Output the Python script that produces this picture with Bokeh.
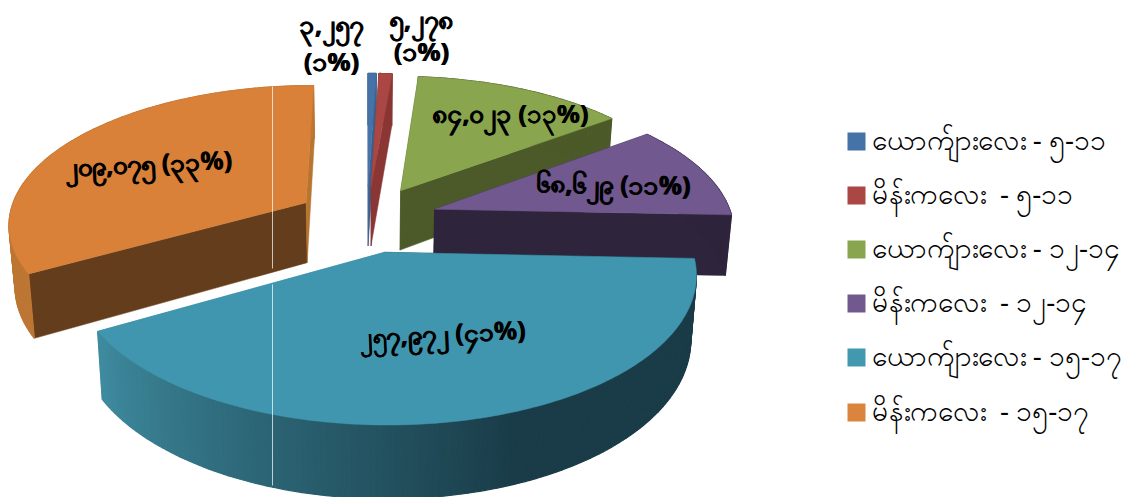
import math
from bokeh.plotting import figure
from bokeh.models import Range1d
from bokeh.core.properties import value
from bokeh.embed import file_html
from bokeh.resources import INLINE

NB = "\u00a0"
categories = ["ယောက်ျားလေး - ၅-၁၁", "မိန်းကလေး" + NB + NB + "- ၅-၁၁", "ယောက်ျားလေး - ၁၂-၁၄",
              "မိန်းကလေး" + NB + NB + "- ၁၂-၁၄", "ယောက်ျားလေး - ၁၅-၁၇", "မိန်းကလေး" + NB + NB + "- ၁၅-၁၇"]
values = [3257, 5278, 84023, 68629, 257972, 209075]
label_lines = [["၃,၂၅၇", "(၁%)"], ["၅,၂၇၈", "(၁%)"], ["၈၄,၀၂၃ (၁၃%)"], ["၆၈,၆၂၉ (၁၁%)"], ["၂၅၇,၉၇၂ (၄၁%)"], ["၂၀၉,၀၇၅ (၃၃%)"]]

top_colors = ["#4572a7", "#aa4643", "#89a54e", "#71588f", "#4096ae", "#d98039"]
legend_colors = ["#4572a7", "#aa4643", "#89a54e", "#71588f", "#4198af", "#db843d"]
start_wall = ["#38618f", "#8a3634", "#4b5a28", "#2e243b", "#1a3c48", "#643e1c"]
end_wall = ["#38618f", "#8a3634", "#4b5a28", "#2e243b", "#3f8aa0", "#b8752f"]
outer_wall = ["#38618f", "#8a3634", "#4b5a28", "#2e243b", None, "#bd7633"]

CX, CY, RX, RY, PERSP, EXPLODE, DEPTH, SHRINK = 366.5, 218.5, 298.0, 138.0, 0.141, 0.24, 61.0, 0.017
FONT = "Noto Sans"

p = figure(width=1132, height=497, x_range=Range1d(0, 1132), y_range=Range1d(497, 0),
           toolbar_location=None, output_backend="svg", min_border=0, outline_line_color=None,
           background_fill_color="white", border_fill_color="white")
p.axis.visible = False
p.grid.visible = False


def project(u, v, low=False):
    s = 1.0 / (1.0 - PERSP * v)
    x = RX * u * s
    y = RY * v * s
    if low:
        x *= 1 - SHRINK
        y += DEPTH * s
    return CX + x, CY + y


def ground(a):
    return math.sin(a), -math.cos(a)


def lerp_hex(c1, c2, t):
    a = [int(c1[i:i + 2], 16) for i in (1, 3, 5)]
    b = [int(c2[i:i + 2], 16) for i in (1, 3, 5)]
    return "#%02x%02x%02x" % tuple(round(a[i] + (b[i] - a[i]) * t) for i in range(3))


def teal_shade(t):
    stops = [(0.0, "#1a3c48"), (0.45, "#1a3c48"), (0.75, "#2d6878"), (1.0, "#3f8ba0")]
    for (t0, c0), (t1, c1) in zip(stops, stops[1:]):
        if t <= t1:
            return lerp_hex(c0, c1, (t - t0) / (t1 - t0))
    return stops[-1][1]


total = sum(values)
spans = []
acc = 0.0
for val in values:
    a0 = acc / total * 2 * math.pi
    acc += val
    spans.append((a0, acc / total * 2 * math.pi))

for idx in [0, 1, 2, 3, 5, 4]:
    a0, a1 = spans[idx]
    mu, mv = ground((a0 + a1) / 2)
    ou, ov = mu * EXPLODE, mv * EXPLODE
    n = max(8, int((a1 - a0) / math.radians(1)))
    arc = [(ou + ground(a0 + (a1 - a0) * i / n)[0], ov + ground(a0 + (a1 - a0) * i / n)[1]) for i in range(n + 1)]
    for (eu, ev), col in [(arc[0], start_wall[idx]), (arc[-1], end_wall[idx])]:
        q = [project(ou, ov), project(eu, ev), project(eu, ev, True), project(ou, ov, True)]
        p.patch([c[0] for c in q], [c[1] for c in q], fill_color=col, line_color=col, line_width=0.5)
    for i in range(n):
        col = outer_wall[idx] or teal_shade(i / (n - 1))
        q = [project(*arc[i]), project(*arc[i + 1]), project(*arc[i + 1], True), project(*arc[i], True)]
        p.patch([c[0] for c in q], [c[1] for c in q], fill_color=col, line_color=col, line_width=1.2)
    top = [project(ou, ov)] + [project(*c) for c in arc]
    p.patch([c[0] for c in top], [c[1] for c in top], fill_color=top_colors[idx],
            line_color=top_colors[idx], line_width=0.5)

# thin pale seam crossing the picture
p.line([272, 272], [86, 268], line_color="white", line_alpha=0.7, line_width=1)
p.line([272, 272], [284, 485], line_color="white", line_alpha=0.7, line_width=1)

label_x = [331, 421, 510, 613, 442, 148]
label_y = [(23, 60), (18, 50), (112,), (183,), (332,), (162,)]
label_ang = [0, 0, 0, -1, 2.5, 2.5]
for lines, lx, ys, ang in zip(label_lines, label_x, label_y, label_ang):
    for line, ly in zip(lines, ys):
        for dx in (-0.4, 0.4):
            p.text([lx + dx], [ly], text=[line], text_font=value(FONT), text_font_size="25.5px",
                   text_font_style="bold", text_color="black", text_align="center", text_baseline="middle",
                   angle=math.radians(ang))

legend_y = [141, 195, 249, 303, 357, 412]
for cat, col, ly in zip(categories, legend_colors, legend_y):
    p.rect([856], [ly], width=18, height=18, fill_color=col, line_color=None)
    p.text([871], [ly - 3], text=[cat], text_font=value(FONT), text_font_size="28px", text_color="#000000",
           text_align="left", text_baseline="middle")

open("out.html", "w").write(file_html(p, INLINE))
